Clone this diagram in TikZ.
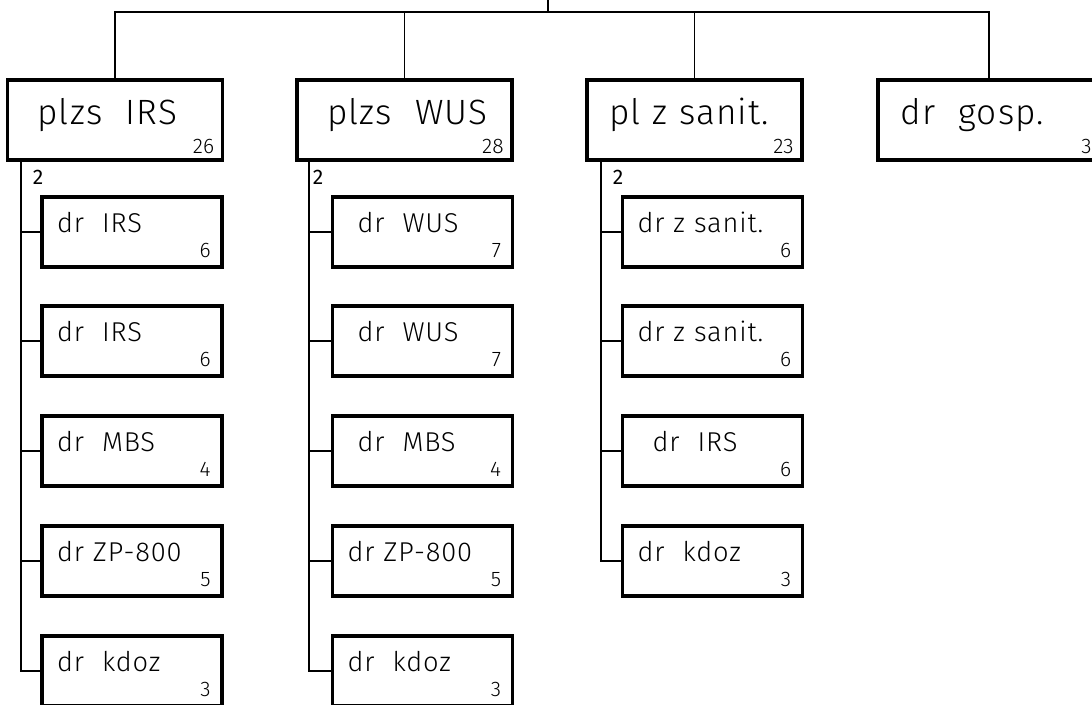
\documentclass[tikz,border=0pt]{standalone}
\usepackage{fontspec}
\setmainfont{Fira Sans}[UprightFont=* Light]
\newfontfamily\lett{Fira Sans}[UprightFont=* Light, LetterSpace=3]
\newfontfamily\plain{Fira Sans}
\usetikzlibrary{calc}

\begin{document}
\begin{tikzpicture}[x=0.02cm, y=-0.02cm, line width=1.1pt,
  box/.style={draw, line width=1.8pt, rectangle, align=left},
  top/.style={box, minimum height=1.6cm, text width=3.4cm, inner xsep=0.45cm,
    text height=0.6cm, text depth=0.44cm, font=\lett\fontsize{20}{24}\selectfont},
  sub/.style={box, minimum height=1.4cm, text width=3.0cm, inner xsep=0.3cm,
    text height=0.45cm, text depth=0.45cm, font=\lett\fontsize{15.5}{18}\selectfont},
  nr/.style={anchor=south east, inner xsep=0.18cm, inner ysep=0.13cm, font=\fontsize{12}{14}\selectfont},
  snr/.style={anchor=south east, inner xsep=0.24cm, inner ysep=0.2cm, font=\fontsize{12}{14}\selectfont}]
  \useasboundingbox (0,0) rectangle (1092,704);

  \coordinate (U) at (548,0);
  \coordinate (T) at (548,12);

  % pierwszy poziom
  \node[top, label={[nr]south east:26}] (P1) at (115,120) {\hspace{0.15cm}plzs~~IRS};
  \node[top, label={[nr]south east:28}] (P2) at (404.5,120) {\hspace{0.15cm}plzs~~WUS};
  \node[top, label={[nr]south east:23}] (P3) at (694.5,120) {pl z sanit.};
  \node[top, text width=3.54cm, label={[nr]south east:3}] (P4) at (989,120) {dr~~gosp.};

  \draw (U) -- (T);
  \draw (P1.north) |- (T) -| (P4.north);
  \draw (P2.north) -- (P2.north |- T);
  \draw (P3.north) -- (P3.north |- T);

  % IRS
  \node[sub, label={[snr]south east:6}] (A1) at (132,232) {dr~~IRS};
  \node[sub, label={[snr]south east:6}] (A2) at (132,341) {dr~~IRS};
  \node[sub, label={[snr]south east:4}] (A3) at (132,451) {dr~~MBS};
  \node[sub, label={[snr]south east:5}] (A4) at (132,561) {dr~ZP-800};
  \node[sub, label={[snr]south east:3}] (A5) at (132,671) {dr~~kdoz};

  % WUS
  \node[sub, label={[snr]south east:7}] (B1) at (422.5,232) {\hspace{0.2cm}dr~~WUS};
  \node[sub, label={[snr]south east:7}] (B2) at (422.5,341) {\hspace{0.2cm}dr~~WUS};
  \node[sub, label={[snr]south east:4}] (B3) at (422.5,451) {\hspace{0.2cm}dr~~MBS};
  \node[sub, label={[snr]south east:5}] (B4) at (422.5,561) {dr~ZP-800};
  \node[sub, label={[snr]south east:3}] (B5) at (422.5,671) {dr~~kdoz};

  % z sanit.
  \node[sub, label={[snr]south east:6}] (C1) at (712.5,232) {dr z sanit.};
  \node[sub, label={[snr]south east:6}] (C2) at (712.5,341) {dr z sanit.};
  \node[sub, label={[snr]south east:6}] (C3) at (712.5,451) {\hspace{0.3cm}dr~~IRS};
  \node[sub, label={[snr]south east:3}] (C4) at (712.5,561) {dr~~kdoz};

  \coordinate (SA) at (21,160);
  \coordinate (SB) at (309,160);
  \coordinate (SC) at (601,160);

  \node[font=\plain\fontsize{12}{14}\selectfont] (nA) at (38,177) {2};
  \node[font=\plain\fontsize{12}{14}\selectfont] (nB) at (318,177) {2};
  \node[font=\plain\fontsize{12}{14}\selectfont] (nC) at (618,177) {2};

  \draw (SA) |- (A5.west);
  \draw (SB) |- (B5.west);
  \draw (SC) |- (C4.west);
  \draw (A1.west) -- (A1.west -| SA);
  \draw (A2.west) -- (A2.west -| SA);
  \draw (A3.west) -- (A3.west -| SA);
  \draw (A4.west) -- (A4.west -| SA);
  \draw (B1.west) -- (B1.west -| SB);
  \draw (B2.west) -- (B2.west -| SB);
  \draw (B3.west) -- (B3.west -| SB);
  \draw (B4.west) -- (B4.west -| SB);
  \draw (C1.west) -- (C1.west -| SC);
  \draw (C2.west) -- (C2.west -| SC);
  \draw (C3.west) -- (C3.west -| SC);
\end{tikzpicture}
\end{document}
